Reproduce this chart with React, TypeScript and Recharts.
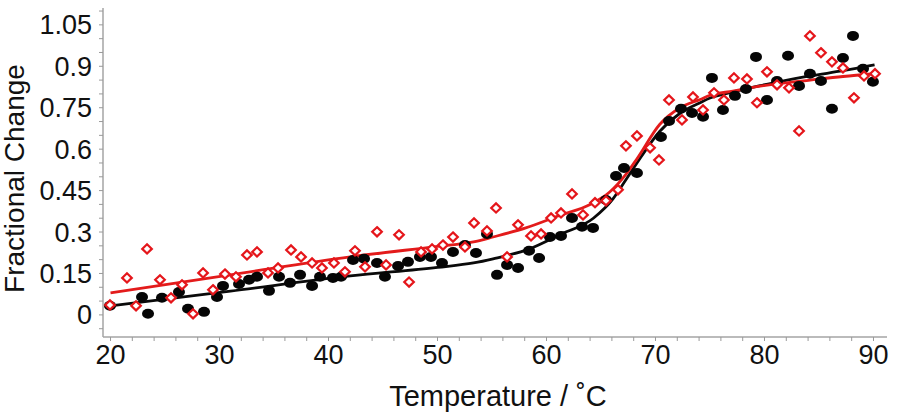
import React from 'react';
import { ComposedChart, Line, Scatter, XAxis, YAxis } from 'recharts';

// Black filled circles (measured points, series 1)
const blackTemps = [19.95, 22.89, 23.44, 24.72, 26.28, 27.11, 28.58, 29.77, 30.32, 31.79, 32.71, 33.44, 34.54, 35.46, 36.47, 37.39, 38.49, 39.22, 40.41, 41.15, 42.25, 43.26, 44.45, 45.18, 46.38, 47.29, 48.39, 49.40, 50.41, 51.42, 52.52, 53.53, 54.54, 55.46, 56.38, 57.39, 58.40, 59.32, 60.32, 61.33, 62.34, 63.26, 64.27, 65.46, 66.38, 67.11, 68.30, 70.50, 71.24, 72.34, 73.35, 74.36, 75.18, 76.19, 77.29, 78.30, 79.22, 80.23, 81.15, 82.16, 83.17, 84.17, 85.18, 86.19, 87.20, 88.12, 89.04, 89.95];
const blackValues = [0.033, 0.065, 0.004, 0.062, 0.083, 0.022, 0.011, 0.065, 0.105, 0.112, 0.127, 0.138, 0.087, 0.138, 0.116, 0.145, 0.105, 0.138, 0.134, 0.138, 0.199, 0.203, 0.188, 0.138, 0.177, 0.192, 0.210, 0.210, 0.188, 0.228, 0.253, 0.224, 0.293, 0.145, 0.181, 0.170, 0.232, 0.206, 0.282, 0.286, 0.351, 0.319, 0.315, 0.416, 0.503, 0.532, 0.514, 0.644, 0.702, 0.746, 0.731, 0.717, 0.858, 0.742, 0.793, 0.818, 0.934, 0.778, 0.847, 0.938, 0.829, 0.873, 0.847, 0.746, 0.930, 1.010, 0.891, 0.844];

// Red open diamonds (measured points, series 2)
const redTemps = [19.95, 21.51, 22.34, 23.35, 24.54, 25.55, 26.56, 27.57, 28.49, 29.40, 30.50, 31.51, 32.52, 33.44, 34.45, 35.37, 36.56, 37.48, 38.49, 39.40, 40.50, 41.51, 42.43, 43.35, 44.45, 45.28, 46.47, 47.39, 48.49, 49.50, 50.50, 51.42, 52.52, 53.35, 54.54, 55.37, 56.38, 57.39, 58.58, 59.50, 60.42, 61.33, 62.34, 63.35, 64.45, 65.46, 66.56, 67.29, 68.30, 69.50, 70.32, 71.24, 72.43, 73.44, 74.36, 75.37, 76.28, 77.20, 78.39, 79.31, 80.23, 81.15, 82.25, 83.17, 84.17, 85.18, 86.19, 87.20, 88.21, 89.13, 90.14];
const redValues = [0.036, 0.134, 0.033, 0.239, 0.127, 0.062, 0.109, 0.004, 0.152, 0.091, 0.148, 0.138, 0.217, 0.228, 0.152, 0.170, 0.235, 0.210, 0.188, 0.170, 0.188, 0.156, 0.232, 0.174, 0.301, 0.181, 0.290, 0.119, 0.228, 0.239, 0.253, 0.282, 0.246, 0.333, 0.304, 0.387, 0.210, 0.326, 0.286, 0.293, 0.351, 0.369, 0.438, 0.362, 0.406, 0.413, 0.453, 0.612, 0.648, 0.605, 0.561, 0.778, 0.706, 0.789, 0.742, 0.804, 0.778, 0.858, 0.854, 0.768, 0.880, 0.833, 0.822, 0.666, 1.010, 0.949, 0.916, 0.894, 0.786, 0.865, 0.873];

// Fitted curves
const blackFitTemps = [20, 31, 42, 50, 53.3, 55.1, 58.5, 61.2, 64.3, 66.1, 67.3, 68.3, 70.4, 72.25, 74.1, 75, 77.1, 79.6, 81.1, 84.2, 87.2, 90.1];
const blackFitValues = [0.033, 0.086, 0.141, 0.172, 0.188, 0.203, 0.24, 0.29, 0.35, 0.42, 0.49, 0.55, 0.665, 0.73, 0.768, 0.785, 0.807, 0.83, 0.842, 0.865, 0.884, 0.905];
const redFitTemps = [20, 31, 42, 50, 53.3, 55.1, 58.1, 61.2, 64.0, 65.8, 67.3, 68.3, 70.4, 72.25, 74.1, 75, 77.1, 79.6, 81.1, 84.2, 87.2, 90.1];
const redFitValues = [0.08, 0.145, 0.21, 0.248, 0.264, 0.282, 0.315, 0.36, 0.40, 0.445, 0.51, 0.565, 0.69, 0.75, 0.78, 0.795, 0.81, 0.828, 0.836, 0.85, 0.863, 0.873];

// Axis ticks
const xMajorTicks = [20, 30, 40, 50, 60, 70, 80, 90];
const xTickLabels = ['20', '30', '40', '50', '60', '70', '80', '90'];
const xMinorTicks = [22, 24, 26, 28, 32, 34, 36, 38, 42, 44, 46, 48, 52, 54, 56, 58, 62, 64, 66, 68, 72, 74, 76, 78, 82, 84, 86, 88];
const yMajorTicks = [0, 0.15, 0.3, 0.45, 0.6, 0.75, 0.9, 1.05];
const yTickLabels = ['0', '0.15', '0.3', '0.45', '0.6', '0.75', '0.9', '1.05'];
const yMinorTicks = [-0.05, 0.05, 0.1, 0.2, 0.25, 0.35, 0.4, 0.5, 0.55, 0.65, 0.7, 0.8, 0.85, 0.95, 1.0, 1.1];

const xDomain = [19.31, 91.24];
const yDomain = [-0.08, 1.111];

const FONT = '"Liberation Sans", Arial, Helvetica, sans-serif';
const BORDER = '#a4a4a4';

const zip = (xs: number[], ys: number[]) => xs.map((x, i) => ({ x, y: ys[i] }));
const blackPts = zip(blackTemps, blackValues);
const redPts = zip(redTemps, redValues);
const blackFit = zip(blackFitTemps, blackFitValues);
const redFit = zip(redFitTemps, redFitValues);

const xTicks = [...xMajorTicks, ...xMinorTicks].sort((a, b) => a - b);
const yTicks = [...yMajorTicks, ...yMinorTicks].sort((a, b) => a - b);

const BlackDot = (p: any) => {
  if (p.cx == null || p.cy == null) return <g />;
  return <ellipse cx={p.cx} cy={p.cy} rx={6} ry={5} fill="#050505" />;
};

const RedDiamond = (p: any) => {
  if (p.cx == null || p.cy == null) return <g />;
  const { cx, cy } = p;
  const w = 4.8;
  const h = 4.6;
  return (
    <polygon
      points={`${cx},${cy - h} ${cx + w},${cy} ${cx},${cy + h} ${cx - w},${cy}`}
      fill="#fff"
      stroke="#e5161b"
      strokeWidth={2.2}
    />
  );
};

const XTick = (p: any) => {
  const i = xMajorTicks.findIndex((v) => Math.abs(v - p.payload.value) < 1e-6);
  if (i < 0) return <g />;
  return (
    <text x={p.x} y={p.y + 21} textAnchor="middle" fontSize={27} fontFamily={FONT} fill="#111">
      {xTickLabels[i]}
    </text>
  );
};

const YTick = (p: any) => {
  const i = yMajorTicks.findIndex((v) => Math.abs(v - p.payload.value) < 1e-6);
  if (i < 0) return <g />;
  return (
    <text x={p.x} y={p.y + 9.5} textAnchor="end" fontSize={27} fontFamily={FONT} fill="#111">
      {yTickLabels[i]}
    </text>
  );
};

const YTitle = (p: any) => {
  const vb = p.viewBox || { x: 0, y: 8, width: 103, height: 329 };
  const cx = vb.x + 24;
  const cy = vb.y + vb.height / 2 + 6;
  return (
    <text
      x={cx}
      y={cy}
      transform={`rotate(-90, ${cx}, ${cy})`}
      textAnchor="middle"
      fontSize={28}
      fontFamily={FONT}
      fill="#111"
    >
      Fractional Change
    </text>
  );
};

const XTitle = (p: any) => {
  const vb = p.viewBox || { x: 103, y: 337, width: 784, height: 76 };
  return (
    <text x={vb.x + vb.width / 2 + 3} y={vb.y + 69} textAnchor="middle" fontSize={29} fontFamily={FONT} fill="#111">
      Temperature / ˚C
    </text>
  );
};

export default function App() {
  return (
    <div style={{ position: 'absolute', left: 0, top: 0, width: 900, height: 413, background: '#fff' }}>
      <ComposedChart width={900} height={413} margin={{ top: 8, right: 13, bottom: 0, left: 0 }}>
        <XAxis
          dataKey="x"
          type="number"
          domain={xDomain}
          allowDataOverflow
          ticks={xTicks}
          interval={0}
          tick={<XTick />}
          tickSize={4}
          tickMargin={2}
          tickLine={{ stroke: '#9a9a9a' }}
          axisLine={{ stroke: BORDER, strokeWidth: 1.5 }}
          height={76}
          label={<XTitle />}
        />
        <XAxis
          xAxisId="top"
          orientation="top"
          type="number"
          domain={xDomain}
          allowDataOverflow
          tick={false}
          tickLine={false}
          axisLine={{ stroke: BORDER, strokeWidth: 1.5 }}
          height={0}
        />
        <YAxis
          dataKey="y"
          type="number"
          domain={yDomain}
          allowDataOverflow
          ticks={yTicks}
          interval={0}
          tick={<YTick />}
          tickSize={4}
          tickMargin={7}
          tickLine={{ stroke: '#9a9a9a' }}
          axisLine={{ stroke: BORDER, strokeWidth: 1.5 }}
          width={103}
          label={<YTitle />}
        />
        <YAxis
          yAxisId="right"
          orientation="right"
          type="number"
          domain={yDomain}
          allowDataOverflow
          tick={false}
          tickLine={false}
          axisLine={{ stroke: BORDER, strokeWidth: 1.5 }}
          width={0}
        />
        <Scatter data={blackPts} dataKey="y" shape={BlackDot} isAnimationActive={false} />
        <Scatter data={redPts} dataKey="y" shape={RedDiamond} isAnimationActive={false} />
        <Line data={blackFit} dataKey="y" type="monotone" stroke="#0a0a0a" strokeWidth={2.8} dot={false} activeDot={false} isAnimationActive={false} />
        <Line data={redFit} dataKey="y" type="monotone" stroke="#e31b1b" strokeWidth={2.8} dot={false} activeDot={false} isAnimationActive={false} />
      </ComposedChart>
    </div>
  );
}
